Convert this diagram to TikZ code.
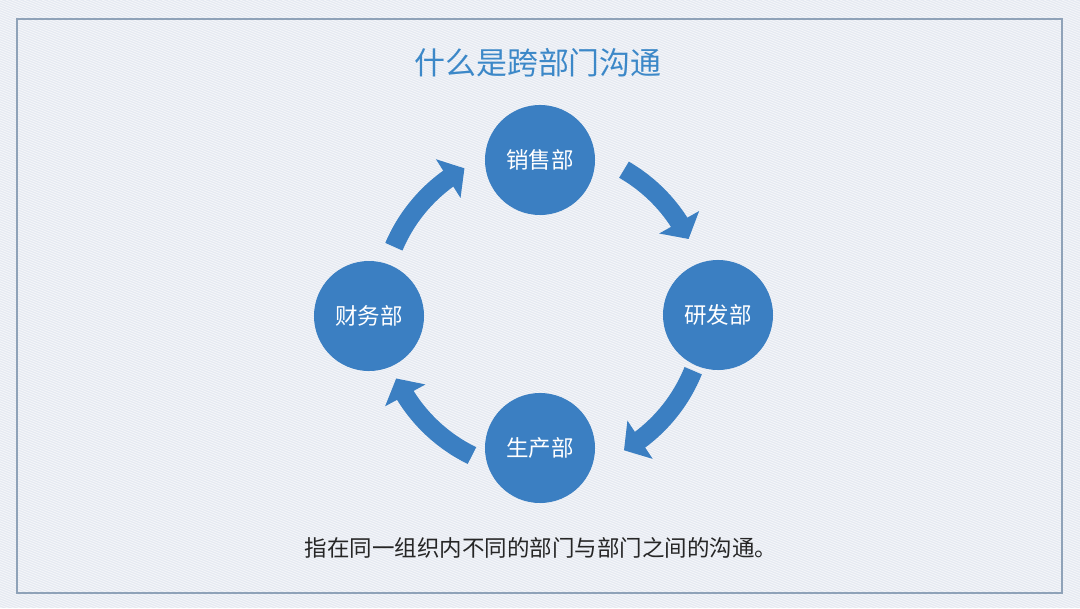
\documentclass[tikz,border=0pt]{standalone}
\usepackage{fontspec}
\setmainfont{Noto Sans CJK SC}
\usetikzlibrary{arrows.meta,bending}

\definecolor{deptblue}{HTML}{3B7FC2}
\definecolor{titleblue}{HTML}{3C88C8}
\definecolor{bgpaper}{HTML}{E5E9F1}
\definecolor{framegray}{HTML}{8FA2B8}

\begin{document}
\begin{tikzpicture}[
	x=0.025cm, y=0.025cm,
	dept/.style      = {circle, fill=deptblue, minimum size=2.75cm, inner sep=0pt,
		text=white, font=\fontsize{16}{18}\selectfont},
	flow/.style      = {deptblue, line width=0.47cm,
		-{Triangle[width=1.12cm, length=0.48cm]}},
	title/.style     = {text=titleblue, font=\fontsize{22}{26}\selectfont},
	detail/.style    = {text=black!85, font=\fontsize{16}{19}\selectfont},
	texture/.style   = {white, line width=0.6pt, opacity=0.6}
	]
	
	% ===================== Background =====================
	\useasboundingbox (0,0) rectangle (1080,608);
	\fill[bgpaper] (0,0) rectangle (1080,608);
	\begin{scope}
		\clip (0,0) rectangle (1080,608);
		\foreach \i in {-1620,-1614,...,1080}
		\draw[texture] (\i,608) -- ++(1600,-640);
	\end{scope}
	\draw[framegray, line width=0.05cm] (17,15) rectangle (1062,589);
	
	% ===================== Title =====================
	\node[title] (head) at (538,545) {什么是跨部门沟通};
	
	% ===================== Departments =====================
	\coordinate (ctr) at (543,298);
	\node[dept] (sales)   at (540,448) {销售部};
	\node[dept] (rnd)     at (718,293) {研发部};
	\node[dept] (prod)    at (540,160) {生产部};
	\node[dept] (finance) at (369,292) {财务部};
	
	% ===================== Cycle arrows =====================
	\draw[flow] ([shift={(60:162)}]ctr)   arc[start angle=60,   end angle=26,   radius=162];
	\draw[flow] ([shift={(-22:162)}]ctr)  arc[start angle=-22,  end angle=-60,  radius=162];
	\draw[flow] ([shift={(-116:162)}]ctr) arc[start angle=-116, end angle=-155, radius=162];
	\draw[flow] ([shift={(157:162)}]ctr)  arc[start angle=157,  end angle=119,  radius=162];
	
	% ===================== Note =====================
	\node[detail] (note) at (541,60) {指在同一组织内不同的部门与部门之间的沟通。};
	
\end{tikzpicture}
\end{document}
